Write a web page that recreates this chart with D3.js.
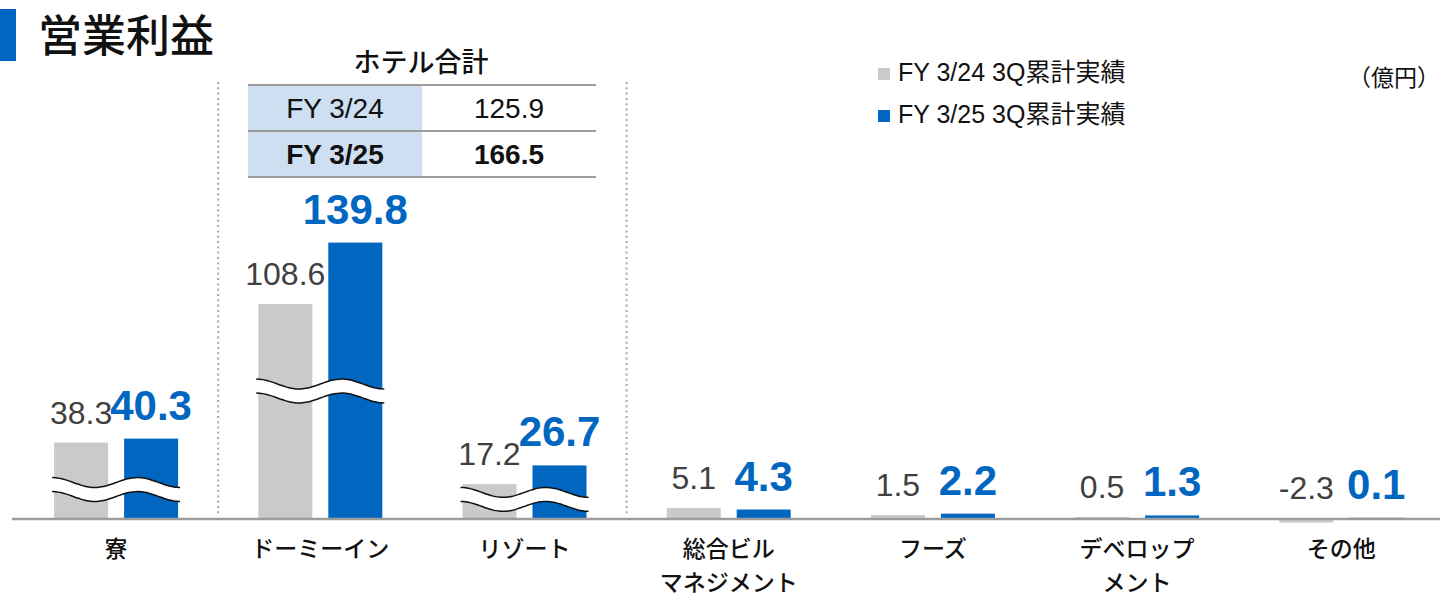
<!DOCTYPE html>
<html>
<head>
<meta charset="utf-8">
<script src="https://cdn.jsdelivr.net/npm/d3@7"></script>
<style>
  body { margin: 0; background: #fff; }
  svg { display: block; font-family: "Liberation Sans", "Noto Sans CJK JP", sans-serif; }
  .jp { font-family: "Noto Sans CJK JP", sans-serif; }
</style>
</head>
<body>
<svg id="chart" width="1440" height="599"></svg>
<script>
const categories = ["寮", "ドーミーイン", "リゾート", "総合ビル\nマネジメント", "フーズ", "デベロップ\nメント", "その他"];
const seriesNames = ["FY 3/24 3Q累計実績", "FY 3/25 3Q累計実績"];
const fy24 = [38.3, 108.6, 17.2, 5.1, 1.5, 0.5, -2.3];
const fy25 = [40.3, 139.8, 26.7, 4.3, 2.2, 1.3, 0.1];
// categories drawn with a wavy axis break, and the value where the break sits
const brokenCats = ["寮", "ドーミーイン", "リゾート"];
const breakValues = [18, 68, 13];
const hotelYears = ["FY 3/24", "FY 3/25"];
const hotelTotals = [125.9, 166.5];

const colors = ["#cbc9c9", "#0066c0"];
const svg = d3.select("#chart");

const x = d3.scaleBand().domain(categories).range([14, 14 + 7 * 204.2]);
const xs = d3.scaleBand().domain([0, 1]).range([-62, 62]).paddingInner(16 / 70);
const y = d3.scaleLinear().domain([0, 140]).range([518, 518 - 140 * 1.97]);
const cx = c => x(c) + x.bandwidth() / 2;

// title
svg.append("rect").attr("x", 0).attr("y", 9).attr("width", 16).attr("height", 52).attr("fill", "#0066c0");
svg.append("text").attr("class", "jp").attr("x", 38).attr("y", 52)
  .attr("font-size", 44).attr("font-weight", 500).attr("fill", "#111").text("営業利益");

// separators
[categories[1], categories[3]].forEach(c => {
  svg.append("line").attr("x1", x(c)).attr("x2", x(c)).attr("y1", 82).attr("y2", 516)
    .attr("stroke", "#a6a6a6").attr("stroke-width", 2).attr("stroke-dasharray", "2,3.3");
});

// bars
const rows = categories.map((c, i) => ({ c, vals: [fy24[i], fy25[i]] }));
const g = svg.selectAll(".grp").data(rows).enter().append("g")
  .attr("transform", d => `translate(${cx(d.c)},0)`);

g.selectAll("rect").data(d => d.vals).enter().append("rect")
  .attr("x", (v, j) => xs(j))
  .attr("width", xs.bandwidth())
  .attr("y", v => Math.min(y(v), y(0)))
  .attr("height", v => Math.abs(y(v) - y(0)))
  .attr("fill", (v, j) => colors[j]);

// value labels
g.selectAll("text.val").data(d => d.vals).enter().append("text")
  .attr("class", "val")
  .attr("x", (v, j) => xs(j) + xs.bandwidth() / 2)
  .attr("y", v => Math.min(y(v), y(0)) - 19)
  .attr("text-anchor", "middle")
  .attr("font-size", (v, j) => j ? 42 : 32)
  .attr("font-weight", (v, j) => j ? "bold" : "normal")
  .attr("fill", (v, j) => j ? "#0066c0" : "#404040")
  .text(v => v.toFixed(1));

// axis break waves
const wave = (x0, x1, c, off) => d3.range(0, 41).map(k => {
  const t = k / 40;
  return [x0 + (x1 - x0) * t, c + off - 5 * Math.cos(3 * Math.PI * t)];
});
brokenCats.forEach((c, i) => {
  const x0 = cx(c) - 64, x1 = cx(c) + 64, yc = y(breakValues[i]);
  const top = wave(x0, x1, yc, 0), bot = wave(x0, x1, yc, 14);
  const line = d3.line().curve(d3.curveBasis);
  svg.append("path").attr("d", line(top) + "L" + line(bot.slice().reverse()).slice(1) + "Z")
    .attr("fill", "#fff");
  [top, bot].forEach(p => svg.append("path").attr("d", line(p))
    .attr("fill", "none").attr("stroke", "#111").attr("stroke-width", 1.5));
});

// baseline
svg.append("line").attr("x1", 12).attr("x2", 1440).attr("y1", y(0) + 1).attr("y2", y(0) + 1)
  .attr("stroke", "#9c9c9c").attr("stroke-width", 2.5);

// category labels
categories.forEach(c => {
  c.split("\n").forEach((s, k) => {
    svg.append("text").attr("class", "jp").attr("text-anchor", "middle")
      .attr("font-size", 23).attr("font-weight", 500).attr("fill", "#111")
      .attr("x", cx(c)).attr("y", 557 + k * 34).text(s);
  });
});

// legend
seriesNames.forEach((s, i) => {
  svg.append("rect").attr("x", 878).attr("y", 68 + i * 42).attr("width", 12).attr("height", 12).attr("fill", colors[i]);
  svg.append("text").attr("x", 898).attr("y", 81 + i * 42).attr("font-size", 25).attr("fill", "#111").text(s);
});
svg.append("text").attr("class", "jp").attr("x", 1440).attr("y", 86).attr("text-anchor", "end")
  .attr("font-size", 23).attr("fill", "#111").text("（億円）");

// hotel total table
svg.append("text").attr("class", "jp").attr("x", 421).attr("y", 72).attr("text-anchor", "middle")
  .attr("font-size", 27).attr("font-weight", 500).attr("fill", "#111").text("ホテル合計");
const tx0 = 248, tx1 = 422, tx2 = 596, ty0 = 85, rh = 46;
hotelYears.forEach((yr, i) => {
  const ry = ty0 + i * rh;
  svg.append("rect").attr("x", tx0).attr("y", ry).attr("width", tx1 - tx0).attr("height", rh).attr("fill", "#cddff0");
  const bold = i === hotelYears.length - 1;
  svg.append("text").attr("x", (tx0 + tx1) / 2).attr("y", ry + 33).attr("text-anchor", "middle")
    .attr("font-size", 28).attr("font-weight", bold ? "bold" : "normal").attr("fill", "#111").text(yr);
  svg.append("text").attr("x", (tx1 + tx2) / 2).attr("y", ry + 33).attr("text-anchor", "middle")
    .attr("font-size", 28).attr("font-weight", bold ? "bold" : "normal").attr("fill", "#111")
    .text(hotelTotals[i].toFixed(1));
});
d3.range(hotelYears.length + 1).forEach(i => {
  svg.append("line").attr("x1", tx0).attr("x2", tx2).attr("y1", ty0 + i * rh).attr("y2", ty0 + i * rh)
    .attr("stroke", "#9c9c9c").attr("stroke-width", 2);
});
</script>
</body>
</html>
